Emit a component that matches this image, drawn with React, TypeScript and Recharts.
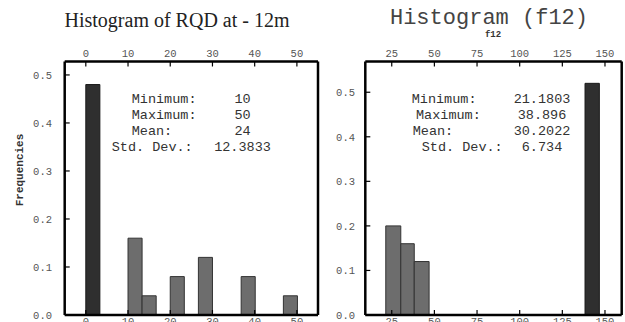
import React from 'react';
import { ComposedChart, XAxis, YAxis, ReferenceArea } from 'recharts';

// ---- Data ----
const rqdBinStart = [0, 10, 13.33, 20, 26.67, 36.8, 46.8];
const rqdBinEnd = [3.33, 13.33, 16.67, 23.33, 30, 40.13, 50.13];
const rqdFreq = [0.48, 0.16, 0.04, 0.08, 0.12, 0.08, 0.04];
const rqdDark = [true, false, false, false, false, false, false];
const rqdXTicks = [0, 10, 20, 30, 40, 50];

const f12BinStart = [21.5, 30.3, 38.2, 138.3];
const f12BinEnd = [30.3, 38.2, 46.9, 146.7];
const f12Freq = [0.2, 0.16, 0.12, 0.52];
const f12Dark = [false, false, false, true];
const f12XTicks = [25, 50, 75, 100, 125, 150];

const freqTicks = [0, 0.1, 0.2, 0.3, 0.4, 0.5];

const statLabels = ['Minimum:', 'Maximum:', 'Mean:', 'Std. Dev.:'];
const rqdStats = ['10', '50', '24', '12.3833'];
const f12Stats = ['21.1803', '38.896', '30.2022', '6.734'];

const leftTitle = 'Histogram of RQD at - 12m';
const rightTitle = 'Histogram (f12)';
const rightAxisName = 'f12';
const yAxisName = 'Frequencies';

// ---- Styles ----
const MONO = '"Liberation Mono", "DejaVu Sans Mono", monospace';
const SERIF = '"Liberation Serif", "DejaVu Serif", serif';
const DARK_FILL = '#2f2f2f';
const MID_FILL = '#6d6d6d';
const FRAME = { stroke: '#000', strokeWidth: 2.5 };
const tickStyle = { fill: '#555', stroke: 'none', fontSize: 10.5, fontFamily: MONO };

type HistProps = {
  left: number;
  width: number;
  height: number;
  margin: { top: number; right: number; bottom: number; left: number };
  xDomain: [number, number];
  yDomain: [number, number];
  xTicks: number[];
  starts: number[];
  ends: number[];
  freqs: number[];
  dark: boolean[];
  yGap: number;
};

function Hist(p: HistProps) {
  const bins = p.starts.map((s, i) => ({ start: s, end: p.ends[i], freq: p.freqs[i], dark: p.dark[i] }));
  return (
    <div style={{ position: 'absolute', left: p.left, top: 0 }}>
      <ComposedChart width={p.width} height={p.height} data={bins} margin={p.margin}>
        <XAxis
          xAxisId="b"
          orientation="bottom"
          type="number"
          dataKey="start"
          domain={p.xDomain}
          ticks={p.xTicks}
          allowDataOverflow
          height={20}
          axisLine={FRAME}
          tickLine={{ stroke: '#000', strokeWidth: 1.2 }}
          tickSize={-5}
          tickMargin={8}
          tick={tickStyle}
          interval={0}
        />
        <XAxis
          xAxisId="t"
          orientation="top"
          type="number"
          dataKey="start"
          domain={p.xDomain}
          ticks={p.xTicks}
          allowDataOverflow
          height={20}
          axisLine={FRAME}
          tickLine={{ stroke: '#000', strokeWidth: 1.2 }}
          tickSize={-5}
          tickMargin={9.8}
          tick={tickStyle}
          interval={0}
        />
        <YAxis
          yAxisId="l"
          orientation="left"
          type="number"
          domain={p.yDomain}
          ticks={freqTicks}
          allowDataOverflow
          width={40}
          axisLine={FRAME}
          tickLine={{ stroke: '#000', strokeWidth: 1.2 }}
          tickSize={-5}
          tickMargin={5 + p.yGap}
          tick={tickStyle}
          tickFormatter={(v: number) => v.toFixed(1)}
          interval={0}
        />
        <YAxis
          yAxisId="r"
          orientation="right"
          type="number"
          domain={p.yDomain}
          ticks={freqTicks}
          allowDataOverflow
          width={10}
          axisLine={FRAME}
          tickLine={{ stroke: '#000', strokeWidth: 1.2 }}
          tickSize={-5}
          tick={false}
          interval={0}
        />
        {bins.map((b, i) => (
          <ReferenceArea
            key={i}
            xAxisId="b"
            yAxisId="l"
            x1={b.start}
            x2={b.end}
            y1={0}
            y2={b.freq}
            fill={b.dark ? DARK_FILL : MID_FILL}
            fillOpacity={1}
            stroke={b.dark ? '#1a1a1a' : '#333'}
            strokeWidth={1}
            ifOverflow="visible"
          />
        ))}
      </ComposedChart>
    </div>
  );
}

const leftLabelX = [131.7, 131.7, 131.7, 111.7];
const rightLabelX = [411.7, 416, 412.7, 421.7];
const statBaselines = [103, 118.5, 134.5, 150.5];

export default function App() {
  return (
    <div
      style={{
        position: 'absolute',
        left: 0,
        top: 0,
        width: 625,
        height: 322,
        overflow: 'hidden',
        background: '#fff',
      }}
    >
      <Hist
        left={0}
        width={330}
        height={345}
        margin={{ top: 41.5, right: 2, bottom: 10, left: 24.7 }}
        xDomain={[-5, 55]}
        yDomain={[0, 0.528]}
        xTicks={rqdXTicks}
        starts={rqdBinStart}
        ends={rqdBinEnd}
        freqs={rqdFreq}
        dark={rqdDark}
        yGap={12.7}
      />
      <Hist
        left={300}
        width={335}
        height={345}
        margin={{ top: 41.5, right: 3.3, bottom: 10, left: 25.3 }}
        xDomain={[9.5, 159.8]}
        yDomain={[0, 0.569]}
        xTicks={f12XTicks}
        starts={f12BinStart}
        ends={f12BinEnd}
        freqs={f12Freq}
        dark={f12Dark}
        yGap={10.3}
      />
      <svg
        width={625}
        height={322}
        style={{ position: 'absolute', left: 0, top: 0, pointerEvents: 'none' }}
      >
        <text x={177} y={27} textAnchor="middle" fontFamily={SERIF} fontSize={20} fill="#222">
          {leftTitle}
        </text>
        <text x={489} y={23.5} textAnchor="middle" fontFamily={MONO} fontSize={22} fill="#444">
          {rightTitle}
        </text>
        <text x={493} y={37} textAnchor="middle" fontFamily={MONO} fontSize={9} fontWeight="bold" fill="#333">
          {rightAxisName}
        </text>
        <text
          x={0}
          y={0}
          transform="translate(23,170) rotate(-90)"
          textAnchor="middle"
          fontFamily={MONO}
          fontSize={11}
          fontWeight="bold"
          fill="#333"
        >
          {yAxisName}
        </text>
        {statLabels.map((l, i) => (
          <text key={'ll' + i} x={leftLabelX[i]} y={statBaselines[i]} fontFamily={MONO} fontSize={13.5} fill="#333">
            {l}
          </text>
        ))}
        {rqdStats.map((v, i) => (
          <text key={'lv' + i} x={242.5} y={statBaselines[i]} textAnchor="middle" fontFamily={MONO} fontSize={13.5} fill="#333">
            {v}
          </text>
        ))}
        {statLabels.map((l, i) => (
          <text key={'rl' + i} x={rightLabelX[i]} y={statBaselines[i]} fontFamily={MONO} fontSize={13.5} fill="#333">
            {l}
          </text>
        ))}
        {f12Stats.map((v, i) => (
          <text key={'rv' + i} x={542} y={statBaselines[i]} textAnchor="middle" fontFamily={MONO} fontSize={13.5} fill="#333">
            {v}
          </text>
        ))}
      </svg>
    </div>
  );
}
